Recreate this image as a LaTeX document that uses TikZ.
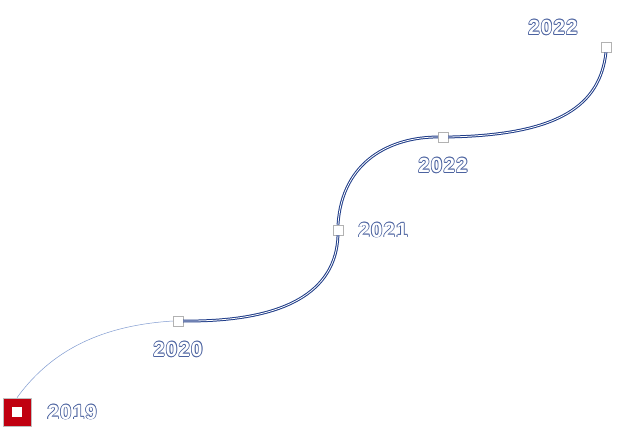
\documentclass[tikz,border=0pt]{standalone}
\usepackage{fontspec}
\setmainfont{Liberation Sans}
\newfontfamily\yearfont[LetterSpace=6]{Liberation Sans}
\usetikzlibrary{positioning}
\definecolor{roadblue}{HTML}{1F3C88}
\definecolor{lineblue}{HTML}{7F9AD0}
\definecolor{markred}{HTML}{C00010}
% blue-edged white digits
\newcommand{\outyear}[1]{\leavevmode
  \rlap{\kern-0.8pt\color{roadblue!80}#1}%
  \rlap{\kern0.8pt\color{roadblue!80}#1}%
  \rlap{\raisebox{0.8pt}{\color{roadblue!80}#1}}%
  \rlap{\raisebox{-0.8pt}{\color{roadblue!80}#1}}%
  \rlap{\kern0.6pt\raisebox{0.6pt}{\color{roadblue!80}#1}}%
  \rlap{\kern-0.6pt\raisebox{-0.6pt}{\color{roadblue!80}#1}}%
  {\color{white}#1}}

\begin{document}
\begin{tikzpicture}[x=1pt, y=-1pt,
  year/.style={inner sep=0pt, font=\yearfont\bfseries\fontsize{20.5}{22}\selectfont},
  stopbox/.style={draw=gray!60, fill=white, minimum size=10pt, inner sep=0pt},
  startbox/.style={draw=gray!50, line width=0.6pt, fill=markred, minimum size=28pt, inner sep=0pt},
  road/.style={draw=roadblue, line width=1pt, double=white, double distance=0.8pt},
  trail/.style={draw=lineblue, line width=0.5pt}
]
\useasboundingbox (0,0) rectangle (621,430);

\node[startbox] (y19) at (17,412) {};
\node[fill=white, minimum size=10pt, inner sep=0pt] at (y19) {};
\node[stopbox] (y20) at (178,321) {};
\node[stopbox] (y21) at (338,230) {};
\node[stopbox] (y22) at (443,137) {};
\node[stopbox] (y23) at (606,47) {};

\node[year, right=16pt of y19] (l19) {\outyear{2019}};
\node[year, below=15pt of y20] (l20) {\outyear{2020}};
\node[year, right=15pt of y21] (l21) {\outyear{2021}};
\node[year, below=15pt of y22] (l22) {\outyear{2022}};
\node[year, above left=6pt and 23pt of y23] (l23) {\outyear{2022}};

\draw[trail] (y19.north) .. controls (55,345) and (110,325) .. (y20.west);
\draw[road] (y20.east) .. controls (285,322) and (336,292) .. (y21.south);
\draw[road] (y21.north) .. controls (342,160) and (392,137) .. (y22.west);
\draw[road] (y22.east) .. controls (560,135) and (600,105) .. (y23.south);

\end{tikzpicture}
\end{document}
